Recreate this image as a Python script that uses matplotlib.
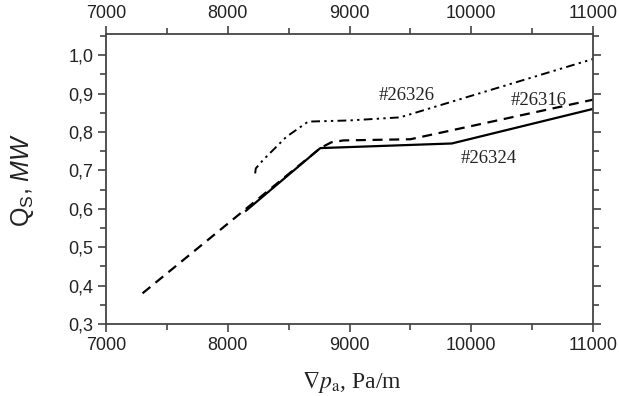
import numpy as np
import matplotlib.pyplot as plt
from matplotlib.ticker import MultipleLocator, FuncFormatter

plt.rcParams['mathtext.fontset'] = 'custom'
plt.rcParams['mathtext.rm'] = 'Liberation Sans'
plt.rcParams['mathtext.it'] = 'Liberation Sans:italic'

# shot #26324 (solid)
x_26324 = [8150, 8760, 9840, 11000]
q_26324 = [0.595, 0.758, 0.770, 0.860]

# shot #26316 (dashed)
x_26316 = [7300, 8760, 8850, 8950, 9500, 11000]
q_26316 = [0.380, 0.758, 0.773, 0.778, 0.781, 0.884]

# shot #26326 (dash-dot-dot)
x_26326 = [8225, 8230, 8290, 8480, 8660, 9000, 9415, 11000]
q_26326 = [0.692, 0.705, 0.727, 0.787, 0.827, 0.830, 0.838, 0.990]

shot_labels = ["#26326", "#26316", "#26324"]
label_pos = [(9470, 0.896), (10550, 0.881), (10140, 0.732)]

axis_col = "#444444"
tick_fs = 13

fig = plt.figure(figsize=(6.19, 3.96), dpi=100)
ax = fig.add_axes([0.1713, 0.1818, 0.7867, 0.7323])

ax.plot(x_26316, q_26316, color="black", lw=1.6, ls=(0, (4.5, 3.0)))
ax.plot(x_26324, q_26324, color="black", lw=1.6, ls="-")
ax.plot(x_26326, q_26326, color="black", lw=1.4,
        ls=(0, (4.5, 2.2, 1.2, 2.2, 1.2, 2.2)))

for txt, (xp, yp) in zip(shot_labels, label_pos):
    ax.text(xp, yp, txt, ha="center", va="center",
            family="Liberation Serif", fontsize=13.5, color="#222222")

ax.set_xlim(7000, 11000)
ax.set_ylim(0.3, 1.055)

ax.xaxis.set_major_locator(MultipleLocator(1000))
ax.xaxis.set_minor_locator(MultipleLocator(500))
ax.yaxis.set_major_locator(MultipleLocator(0.1))
ax.yaxis.set_minor_locator(MultipleLocator(0.05))
ax.yaxis.set_major_formatter(FuncFormatter(lambda v, p: f"{v:.1f}".replace(".", ",")))
ax.xaxis.set_major_formatter(FuncFormatter(lambda v, p: f"{v:.0f}"))

ax.tick_params(which="both", direction="out", top=True, right=True,
               labeltop=True, labelright=False, color=axis_col, width=1.2)
ax.tick_params(which="major", length=6, labelsize=tick_fs, labelcolor="#222222", pad=3)
ax.tick_params(which="minor", length=4)
for tk in ax.xaxis.get_major_ticks() + ax.yaxis.get_major_ticks():
    tk.label1.set_family("Liberation Sans")
    tk.label2.set_family("Liberation Sans")

for sp in ax.spines.values():
    sp.set_color(axis_col)
    sp.set_linewidth(1.3)

ax.set_ylabel(r"Q$_{\mathrm{S}}$, $\mathit{MW}$", family="Liberation Sans",
              fontsize=18, color="#222222", va="center")
ax.yaxis.set_label_coords(-0.172, 0.497)
ax.set_xlabel(r"$\nabla p_{\mathrm{a}}$, Pa/m", family="Liberation Serif",
              fontsize=17, color="#222222", math_fontfamily="stix", va="center")
ax.xaxis.set_label_coords(0.505, -0.2)

fig.savefig("out.png", dpi=100)
